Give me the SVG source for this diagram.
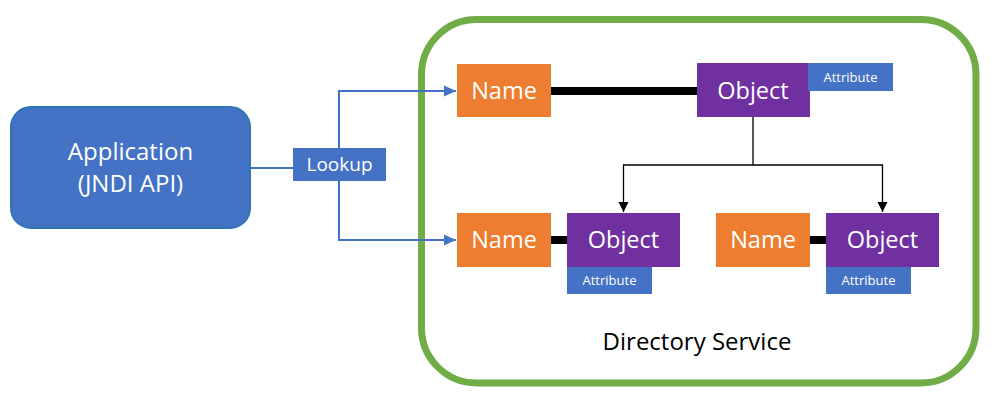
<svg xmlns="http://www.w3.org/2000/svg" width="997" height="408" viewBox="0 0 997 408">
<style>
text{font-family:"Open Sans","Noto Sans","Liberation Sans",sans-serif;fill:#fff;text-anchor:middle}
.name{fill:#ED7D31}
.obj{fill:#7030A0}
.attr{fill:#4472C4}
.big{font-size:23.5px}
.app{font-size:24px}
.small{font-size:13px}
.blue{stroke:#4472C4;stroke-width:2;fill:none}
.blk{stroke:#000;stroke-width:1.3;fill:none}
.thick{stroke:#000;stroke-width:8}
</style>
<defs>
<marker id="ab" viewBox="0 0 10 10" refX="10" refY="5" markerWidth="6" markerHeight="6" orient="auto" markerUnits="strokeWidth"><path d="M0,0.5 L10,5 L0,9.5 Z" fill="#4472C4"/></marker>
<marker id="ak" viewBox="0 0 10 10" refX="10" refY="5" markerWidth="8" markerHeight="8" orient="auto" markerUnits="strokeWidth"><path d="M0,0 L10,5 L0,10 Z" fill="#000"/></marker>
</defs>
<g id="directory-service">
<rect x="421.5" y="19.5" width="554.5" height="363.5" rx="55" fill="#fff" stroke="#70AD47" stroke-width="7"/>
<text x="697" y="350" style="fill:#000;font-size:24px">Directory Service</text>
</g>
<g id="connectors">
<path class="blue" d="M250,168 H293"/>
<path class="blue" d="M339,148 V91 H456" marker-end="url(#ab)"/>
<path class="blue" d="M339,181 V240 H456" marker-end="url(#ab)"/>
<path class="thick" d="M551,91 H697"/>
<path class="thick" d="M551,240 H567"/>
<path class="thick" d="M810,240 H826"/>
<path class="blk" d="M753,117 V165 H623.5 V212" marker-end="url(#ak)"/>
<path class="blk" d="M753,165 H882.5 V212" marker-end="url(#ak)"/>
</g>
<g id="application">
<rect x="11" y="107" width="239" height="121" rx="20" fill="#4472C4" stroke="#2E75B6" stroke-width="2"/>
<text x="130.5" y="160" class="app">Application</text>
<text x="130.5" y="192" class="app">(JNDI API)</text>
</g>
<g id="lookup">
<rect x="293" y="148" width="93" height="33" fill="#4472C4"/>
<text x="339.5" y="171" style="font-size:19px">Lookup</text>
</g>
<g id="name-1">
<rect class="name" x="457" y="64" width="94" height="53"/>
<text x="504" y="99" class="big">Name</text>
</g>
<g id="object-1">
<rect class="obj" x="697" y="63" width="113" height="54"/>
<text x="753" y="99" class="big">Object</text>
</g>
<g id="attribute-1">
<rect class="attr" x="808" y="63" width="85" height="28"/>
<text x="850.5" y="81.5" class="small">Attribute</text>
</g>
<g id="name-2">
<rect class="name" x="457" y="213" width="94" height="54"/>
<text x="504" y="248" class="big">Name</text>
</g>
<g id="object-2">
<rect class="obj" x="567" y="213" width="113" height="54"/>
<text x="623.5" y="248" class="big">Object</text>
</g>
<g id="attribute-2">
<rect class="attr" x="567" y="267" width="85" height="27"/>
<text x="609.5" y="284.5" class="small">Attribute</text>
</g>
<g id="name-3">
<rect class="name" x="716" y="213" width="94" height="54"/>
<text x="763" y="248" class="big">Name</text>
</g>
<g id="object-3">
<rect class="obj" x="826" y="213" width="113" height="54"/>
<text x="882.5" y="248" class="big">Object</text>
</g>
<g id="attribute-3">
<rect class="attr" x="826" y="267" width="85" height="27"/>
<text x="868.5" y="284.5" class="small">Attribute</text>
</g>
</svg>
